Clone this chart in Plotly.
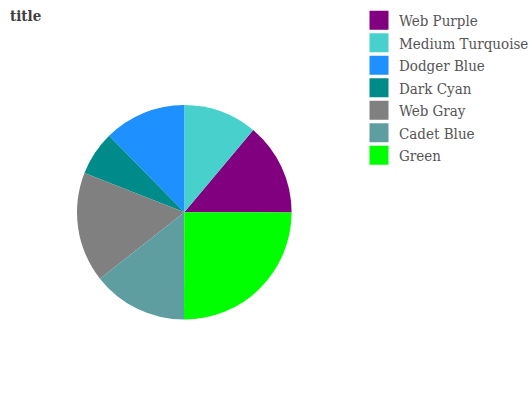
import plotly.graph_objects as go

labels = ["Web Purple", "Medium Turquoise", "Dodger Blue", "Dark Cyan", "Web Gray", "Cadet Blue", "Green"]
values = [12.5, 10.0, 11.1, 6.0, 14.9, 12.9, 22.5]
colors = ["#800080", "#48d1cc", "#1e90ff", "#008b8b", "#808080", "#5f9ea0", "#00ff00"]

W, H = 532, 400
cx, cy, r = 184.3, 212.3, 107.3
FONT = "DejaVu Serif Condensed, DejaVu Serif"

fig = go.Figure()
fig.add_trace(go.Pie(
    labels=labels, values=values, sort=False, direction="counterclockwise",
    rotation=40, marker=dict(colors=colors, line=dict(width=0)),
    textinfo="none", hoverinfo="label+value", showlegend=False,
    domain=dict(x=[(cx - r) / W, (cx + r) / W], y=[(H - cy - r) / H, (H - cy + r) / H]),
))
for lab, col in zip(labels, colors):
    fig.add_trace(go.Scatter(x=[None], y=[None], mode="markers", name=lab,
                             marker=dict(symbol="square", size=16, color=col,
                                         line=dict(width=3, color=col)),
                             showlegend=True))

fig.update_layout(
    width=W, height=H, margin=dict(l=0, r=0, t=0, b=0, autoexpand=False),
    paper_bgcolor="white", plot_bgcolor="white",
    xaxis=dict(visible=False), yaxis=dict(visible=False),
    font=dict(family=FONT, color="#555555"),
    title=dict(text="title", x=10 / W, xanchor="left", y=1 - 10 / H, yanchor="top",
               font=dict(family=FONT, size=15, color="#404040", weight="bold")),
    legend=dict(x=359 / W, xanchor="left", y=1 - 4 / H, yanchor="top",
                font=dict(size=15, color="#555555"), bgcolor="rgba(0,0,0,0)",
                itemsizing="trace", tracegroupgap=0),
)
fig.write_html("out.html")
